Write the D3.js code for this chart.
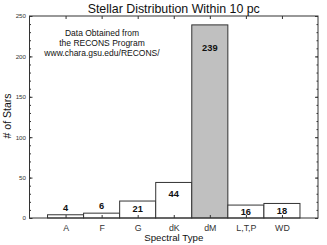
<!DOCTYPE html>
<html>
<head>
<meta charset="utf-8">
<script src="https://cdn.jsdelivr.net/npm/d3@7"></script>
<style>
  body { margin: 0; background: white; }
  svg { display: block; font-family: "Liberation Sans", Arial, sans-serif; }
  .axis text { fill: #333; font-size: 6.2px; }
  .axis line { stroke: #333; }
  .axis path { display: none; }
</style>
</head>
<body>
<svg id="chart" width="327" height="245"></svg>
<script>
  // data
  const categories = ["A", "F", "G", "dK", "dM", "L,T,P", "WD"];
  const counts = [4, 6, 21, 44, 239, 16, 18];
  const highlighted = ["dM"];
  const yTicks = [0, 50, 100, 150, 200, 250];
  const noteLines = ["Data Obtained from", "the RECONS Program", "www.chara.gsu.edu/RECONS/"];

  const svg = d3.select("#chart");
  const plotLeft = 29.5, plotRight = 318, plotTop = 16, plotBottom = 218;

  const x = d3.scaleLinear().domain([0, categories.length + 1]).range([plotLeft, plotRight]);
  const y = d3.scaleLinear().domain([0, 250]).range([plotBottom, plotTop]);

  const data = categories.map((c, i) => ({ cat: c, pos: i + 1, v: counts[i] }));

  // bars
  svg.append("g").selectAll("rect")
    .data(data)
    .enter().append("rect")
      .attr("x", d => x(d.pos - 0.5))
      .attr("y", d => y(d.v))
      .attr("width", d => x(d.pos + 0.5) - x(d.pos - 0.5))
      .attr("height", d => y(0) - y(d.v))
      .attr("fill", d => highlighted.includes(d.cat) ? "#c0c0c0" : "white")
      .attr("stroke", "#333")
      .attr("stroke-width", 1);

  // value labels: small bars get them on top, others inside
  const labelY = d => {
    if (d.v < 10) return y(d.v) - 4;
    if (d.v < 30) return Math.min(y(d.v) + 11, plotBottom - 3);
    if (d.v < 100) return y(d.v) + 15;
    return y(d.v) + 26;
  };
  svg.append("g").selectAll("text")
    .data(data)
    .enter().append("text")
      .attr("x", d => x(d.pos))
      .attr("y", labelY)
      .attr("text-anchor", "middle")
      .attr("font-size", "9.3px")
      .attr("font-weight", "bold")
      .attr("fill", "#111")
      .text(d => d.v);

  // axes, ticks point inward
  const minor = d3.range(0, 251, 10);
  svg.append("g").attr("class", "axis")
    .attr("transform", `translate(${plotLeft},0)`)
    .call(d3.axisLeft(y).tickValues(minor).tickSize(-1.5).tickFormat(""));
  svg.append("g").attr("class", "axis")
    .attr("transform", `translate(${plotLeft},0)`)
    .call(d3.axisLeft(y).tickValues(yTicks).tickSize(-3).tickPadding(3.5));
  svg.append("g").attr("class", "axis")
    .attr("transform", `translate(${plotRight},0)`)
    .call(d3.axisRight(y).tickValues(minor).tickSize(-1.5).tickFormat(""));
  svg.append("g").attr("class", "axis")
    .attr("transform", `translate(${plotRight},0)`)
    .call(d3.axisRight(y).tickValues(yTicks).tickSize(-3).tickFormat(""));
  svg.append("g").attr("class", "axis")
    .attr("transform", `translate(0,${plotTop})`)
    .call(d3.axisTop(x).tickValues(data.map(d => d.pos)).tickSize(-3).tickFormat(""));
  svg.append("g").attr("class", "axis")
    .attr("transform", `translate(0,${plotBottom})`)
    .call(d3.axisBottom(x).tickValues(data.map(d => d.pos)).tickSize(-3).tickPadding(6.6)
      .tickFormat((d, i) => categories[i]))
    .selectAll("text").style("font-size", "8.8px").attr("fill", "#222");

  // frame
  svg.append("rect")
    .attr("x", plotLeft).attr("y", plotTop)
    .attr("width", plotRight - plotLeft).attr("height", plotBottom - plotTop)
    .attr("fill", "none").attr("stroke", "#333").attr("stroke-width", 1);

  // title and axis titles
  svg.append("text")
    .attr("x", (plotLeft + plotRight) / 2).attr("y", 12.7)
    .attr("text-anchor", "middle").attr("font-size", "12.4px").attr("fill", "#111")
    .text("Stellar Distribution Within 10 pc");

  svg.append("text")
    .attr("x", (plotLeft + plotRight) / 2).attr("y", 240.5)
    .attr("text-anchor", "middle").attr("font-size", "9.7px").attr("fill", "#111")
    .text("Spectral Type");

  svg.append("text")
    .attr("transform", "translate(10.8,116) rotate(-90)")
    .attr("text-anchor", "middle").attr("font-size", "10.5px").attr("fill", "#111")
    .text("# of Stars");

  svg.append("g").selectAll("text")
    .data(noteLines)
    .enter().append("text")
      .attr("x", 102)
      .attr("y", (d, i) => 36 + i * 9.8)
      .attr("text-anchor", "middle")
      .attr("font-size", "8.5px")
      .attr("fill", "#111")
      .text(d => d);
</script>
</body>
</html>
